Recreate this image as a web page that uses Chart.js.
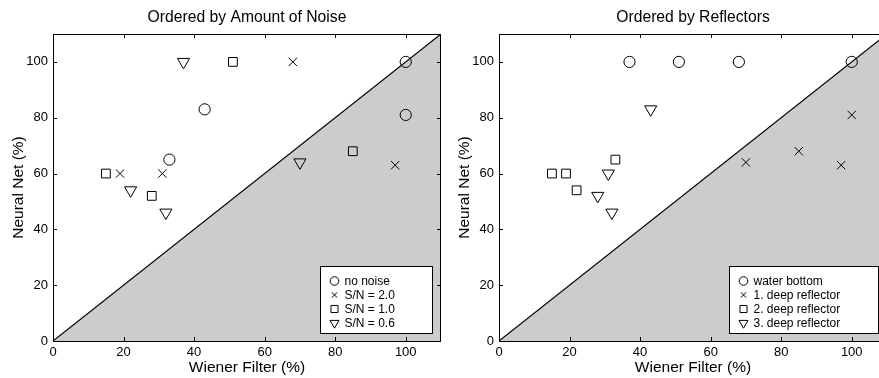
<!DOCTYPE html>
<html><head><meta charset="utf-8">
<script src="https://cdn.jsdelivr.net/npm/chart.js@4"></script>
<style>
html,body{margin:0;padding:0;background:#fff;overflow:hidden;width:879px;height:378px;}
#w1{position:absolute;left:0;top:0;width:449px;height:378px;}
#w2{position:absolute;left:440px;top:0;width:455px;height:378px;}
</style></head><body>
<div id="w1"><canvas id="c1"></canvas></div>
<div id="w2"><canvas id="c2"></canvas></div>
<script>
// ---- data ----
const chartTitles = ['Ordered by Amount of Noise', 'Ordered by Reflectors'];
const xTitle = 'Wiener Filter (%)';
const yTitle = 'Neural Net (%)';
const tickValues = [0, 20, 40, 60, 80, 100];
const axisMin = 0, axisMax = 110;

const noiseLabels = ['no noise', 'S/N = 2.0', 'S/N = 1.0', 'S/N = 0.6'];
const noNoise = [[33, 65], [43, 83], [100, 81], [100, 100]];
const sn20 = [[19, 60], [31, 60], [68, 100], [97, 63]];
const sn10 = [[15, 60], [28, 52], [51, 100], [85, 68]];
const sn06 = [[22, 54], [32, 46], [37, 100], [70, 64]];

const reflectorLabels = ['water bottom', '1. deep reflector', '2. deep reflector', '3. deep reflector'];
const waterBottom = [[37, 100], [51, 100], [68, 100], [100, 100]];
const deep1 = [[70, 64], [85, 68], [97, 63], [100, 81]];
const deep2 = [[15, 60], [19, 60], [22, 54], [33, 65]];
const deep3 = [[28, 52], [31, 60], [32, 46], [43, 83]];

const diagonal = [[0, 0], [110, 110]];

// ---- styles ----
const FONT = '"Liberation Sans", Arial, Helvetica, sans-serif';
const markerStyles = [
  {pointStyle: 'circle', radius: 5.6, rotation: 0, legendRadius: 4.3},
  {pointStyle: 'crossRot', radius: 5.9, rotation: 0, legendRadius: 3.8},
  {pointStyle: 'rect', radius: 6.2, rotation: 0, legendRadius: 5.0},
  {pointStyle: 'triangle', radius: 7.0, rotation: 180, legendRadius: 5.2}
];

Chart.defaults.font.family = FONT;
Chart.defaults.color = '#000';

const toXY = arr => arr.map(p => ({x: p[0], y: p[1]}));

const framePlugin = {
  id: 'frame',
  afterDraw(chart, args, opts) {
    const ctx = chart.ctx, ca = chart.chartArea;
    const xs = chart.scales.x, ys = chart.scales.y;
    ctx.save();
    // title
    ctx.fillStyle = '#000';
    ctx.font = '15.7px ' + FONT;
    ctx.textAlign = 'center';
    ctx.textBaseline = 'middle';
    ctx.fillText(opts.title, (ca.left + ca.right) / 2, 18);
    // frame
    ctx.strokeStyle = '#000';
    ctx.lineWidth = 1;
    ctx.strokeRect(ca.left + 0.5, ca.top + 0.5, ca.right - ca.left - 1, ca.bottom - ca.top);
    // inward ticks
    const tl = 4;
    ctx.beginPath();
    xs.ticks.forEach(t => {
      const px = Math.round(xs.getPixelForValue(t.value)) + 0.5;
      ctx.moveTo(px, ca.bottom); ctx.lineTo(px, ca.bottom - tl);
      ctx.moveTo(px, ca.top); ctx.lineTo(px, ca.top + tl);
    });
    ys.ticks.forEach(t => {
      const py = Math.round(ys.getPixelForValue(t.value)) + 0.5;
      ctx.moveTo(ca.left, py); ctx.lineTo(ca.left + tl, py);
      ctx.moveTo(ca.right, py); ctx.lineTo(ca.right - tl, py);
    });
    ctx.stroke();
    // legend
    const items = chart.data.datasets.filter(d => d.label);
    ctx.font = '12px ' + FONT;
    let maxW = 0;
    items.forEach(d => { maxW = Math.max(maxW, ctx.measureText(d.label).width); });
    const bw = Math.round(24 + maxW + 38), bh = 67;
    const bx = Math.round(ca.right - 9 - bw) + 0.5;
    const by = Math.round(ca.bottom - 8 - bh) + 0.5;
    ctx.fillStyle = '#fff';
    ctx.fillRect(bx, by, bw, bh);
    ctx.strokeRect(bx, by, bw, bh);
    ctx.textAlign = 'left';
    ctx.textBaseline = 'middle';
    items.forEach((d, i) => {
      const cy = by + 14.5 + i * 14;
      ctx.fillStyle = 'rgba(0,0,0,0)';
      ctx.strokeStyle = '#000';
      ctx.lineWidth = 1;
      Chart.helpers.drawPoint(ctx, {
        pointStyle: d.pointStyle, rotation: d.rotation,
        radius: d.legendRadius, borderWidth: 1
      }, bx + 14, cy);
      ctx.fillStyle = '#000';
      ctx.fillText(d.label, bx + 24, cy + 0.5);
    });
    ctx.restore();
  }
};

function makeChart(id, title, labels, series, padLeft) {
  const datasets = series.map((s, i) => ({
    label: labels[i],
    data: toXY(s),
    pointStyle: markerStyles[i].pointStyle,
    rotation: markerStyles[i].rotation,
    pointRadius: markerStyles[i].radius,
    legendRadius: markerStyles[i].legendRadius,
    borderColor: '#000',
    backgroundColor: 'rgba(0,0,0,0)',
    borderWidth: 1,
    order: 1
  }));
  datasets.push({
    data: toXY(diagonal),
    showLine: true,
    fill: 'origin',
    backgroundColor: '#cccccc',
    borderColor: '#000',
    borderWidth: 1.2,
    pointRadius: 0,
    order: 10
  });
  return new Chart(document.getElementById(id), {
    type: 'scatter',
    data: {datasets},
    plugins: [framePlugin],
    options: {
      responsive: true,
      maintainAspectRatio: false,
      devicePixelRatio: 1,
      animation: false,
      events: [],
      layout: {padding: {left: padLeft, right: 3, top: 34, bottom: 0}},
      plugins: {legend: {display: false}, tooltip: {enabled: false}, frame: {title}},
      scales: {
        x: {
          type: 'linear', min: axisMin, max: axisMax,
          afterFit: s => { s.height = 37; },
          afterBuildTicks: s => { s.ticks = tickValues.map(v => ({value: v})); },
          ticks: {font: {size: 13}, color: '#000', padding: 4, maxRotation: 0},
          grid: {display: false, drawTicks: false},
          border: {display: false},
          title: {display: true, text: xTitle, font: {size: 15.5}, color: '#000', padding: {top: 0, bottom: 1}}
        },
        y: {
          type: 'linear', min: axisMin, max: axisMax,
          afterFit: s => { s.width = 53; },
          afterBuildTicks: s => { s.ticks = tickValues.map(v => ({value: v})); },
          ticks: {font: {size: 13}, color: '#000', padding: 5},
          grid: {display: false, drawTicks: false},
          border: {display: false},
          title: {display: true, text: yTitle, font: {size: 15.5}, color: '#000', padding: {top: 9, bottom: 0}}
        }
      }
    }
  });
}

makeChart('c1', chartTitles[0], noiseLabels, [noNoise, sn20, sn10, sn06], 0);
makeChart('c2', chartTitles[1], reflectorLabels, [waterBottom, deep1, deep2, deep3], 6);
</script>
</body></html>
